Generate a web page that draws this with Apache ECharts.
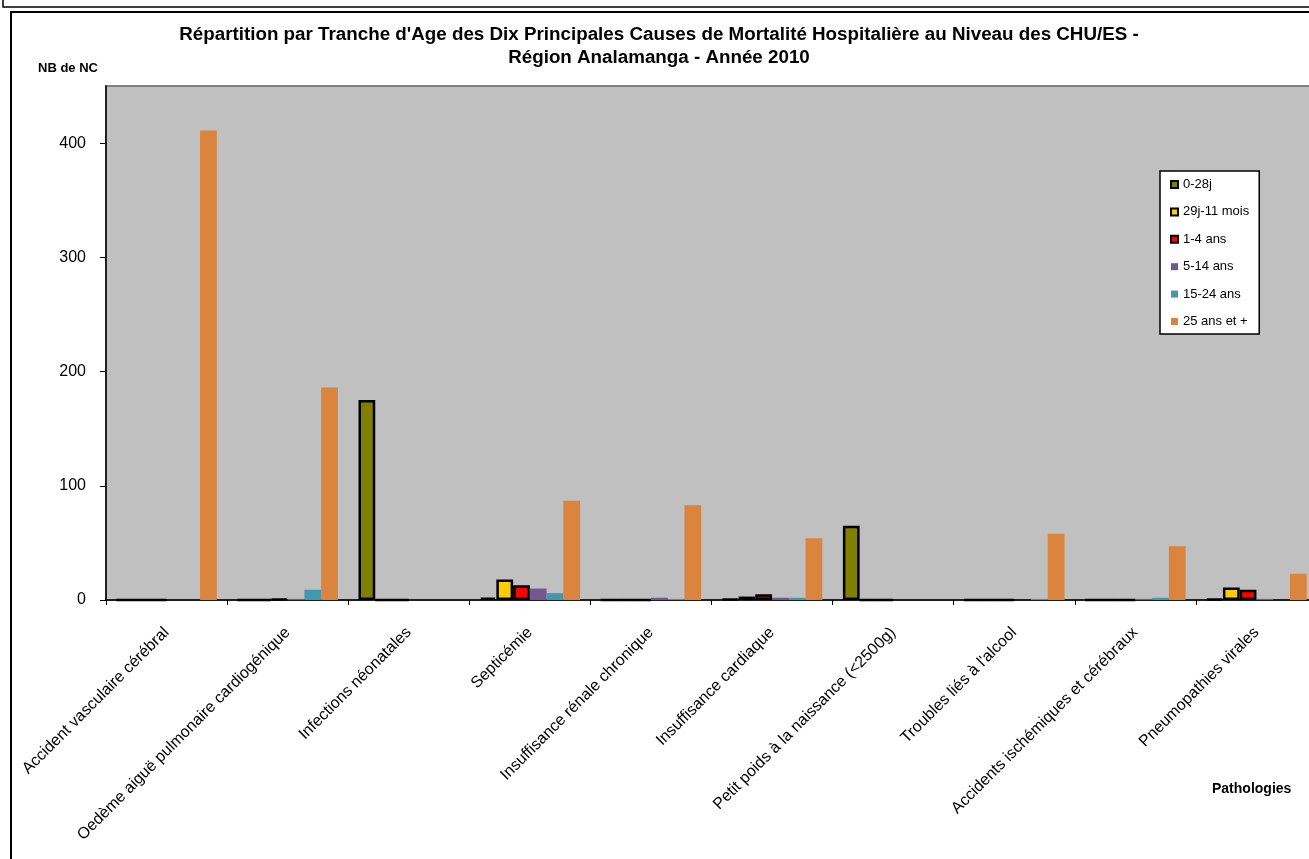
<!DOCTYPE html>
<html>
<head>
<meta charset="utf-8">
<script src="https://cdn.jsdelivr.net/npm/echarts@6/dist/echarts.min.js"></script>
<style>
html,body{margin:0;padding:0;background:#fff;overflow:hidden;}
#main{width:1317px;height:859px;}
</style>
</head>
<body>
<div id="main"></div>
<script>
const categories = [
  "Accident vasculaire cérébral",
  "Oedème aiguë pulmonaire cardiogénique",
  "Infections néonatales",
  "Septicémie",
  "Insuffisance rénale chronique",
  "Insuffisance cardiaque",
  "Petit poids à la naissance (<2500g)",
  "Troubles liés à l'alcool",
  "Accidents ischémiques et cérébraux",
  "Pneumopathies virales"
];
const seriesNames = ["0-28j", "29j-11 mois", "1-4 ans", "5-14 ans", "15-24 ans", "25 ans et +"];
const age0_28j   = [0, 0, 175, 2, 0, 1, 65, 0, 0, 1];
const age29j_11m = [0, 0, 0, 18, 0, 3, 0, 0, 0, 11];
const age1_4     = [0, 1, 0, 13, 0, 5, 0, 0, 0, 9];
const age5_14    = [0, 1, 0, 10, 2, 2, 0, 0, 1, 1];
const age15_24   = [0, 9, 0, 6, 1, 2, 0, 1, 2, 0];
const age25plus  = [411, 186, 0, 87, 83, 54, 0, 58, 47, 23];
const yTicks = [0, 100, 200, 300, 400];

const seriesData = [age0_28j, age29j_11m, age1_4, age5_14, age15_24, age25plus];
const colors = ["#808000", "#FFCC00", "#FF0000", "#71588F", "#4198AF", "#DB843D"];
const bordered = [true, true, true, false, false, false];

const chart = echarts.init(document.getElementById('main'));
const FONT = "Liberation Sans, Arial, sans-serif";

const option = {
  animation: false,
  textStyle: { fontFamily: FONT },
  title: {
    text: "Répartition par Tranche d'Age des Dix Principales Causes de Mortalité Hospitalière au Niveau des CHU/ES -\nRégion Analamanga - Année 2010",
    left: 654, top: 18, textAlign: 'center',
    textStyle: { fontFamily: FONT, fontSize: 18.8, fontWeight: 'bold', color: '#000', lineHeight: 23 }
  },
  grid: {
    left: 106, top: 86, right: 0, bottom: 259,
    show: true, backgroundColor: '#C0C0C0', borderColor: '#808080', borderWidth: 2,
    containLabel: false
  },
  legend: {
    orient: 'vertical', left: 1160, top: 171,
    padding: [6, 10, 5, 10],
    itemWidth: 7, itemHeight: 7, itemGap: 12.4,
    backgroundColor: '#fff', borderColor: '#000', borderWidth: 1.5,
    textStyle: { fontFamily: FONT, fontSize: 13, color: '#000', lineHeight: 15 },
    icon: 'rect',
    data: seriesNames.map((n, i) => ({
      name: n,
      itemStyle: bordered[i] ? { color: colors[i], borderColor: '#000', borderWidth: 2 } : { color: colors[i], borderWidth: 0 }
    }))
  },
  xAxis: {
    type: 'category', data: categories,
    axisLine: { lineStyle: { color: '#000', width: 1.5 } },
    axisTick: { show: true, length: 5, lineStyle: { color: '#000' } },
    axisLabel: { rotate: 45, interval: 0, margin: 30, fontSize: 16, color: '#000', fontFamily: FONT }
  },
  yAxis: {
    type: 'value', min: 0, max: 450, interval: 100,
    axisLine: { show: true, lineStyle: { color: '#000', width: 1.5 } },
    axisTick: { show: true, inside: false, length: 6, customValues: yTicks, lineStyle: { color: '#000' } },
    axisLabel: { margin: 20, fontSize: 16, color: '#000', fontFamily: FONT, customValues: yTicks },
    splitLine: { show: false }
  },
  series: seriesData.map((d, i) => ({
    name: seriesNames[i], type: 'bar', data: d,
    barGap: '0%', barCategoryGap: '17%',
    itemStyle: bordered[i] ? { color: colors[i], borderColor: '#000', borderWidth: 2.5 } : { color: colors[i], borderWidth: 0 }
  })),
  graphic: [
    { type: 'polyline', shape: { points: [[3, 0], [3, 7], [1317, 7]] }, style: { stroke: '#000', lineWidth: 1.5, fill: null } },
    { type: 'polyline', shape: { points: [[11, 859], [11, 12], [1317, 12]] }, style: { stroke: '#000', lineWidth: 2, fill: null } },
    { type: 'text', left: 38, top: 62, style: { text: 'NB de NC', fontFamily: FONT, fontSize: 13, fontWeight: 'bold', fill: '#000' } },
    { type: 'text', left: 1212, top: 782, style: { text: 'Pathologies', fontFamily: FONT, fontSize: 14, fontWeight: 'bold', fill: '#000' } }
  ]
};
chart.setOption(option);
</script>
</body>
</html>
